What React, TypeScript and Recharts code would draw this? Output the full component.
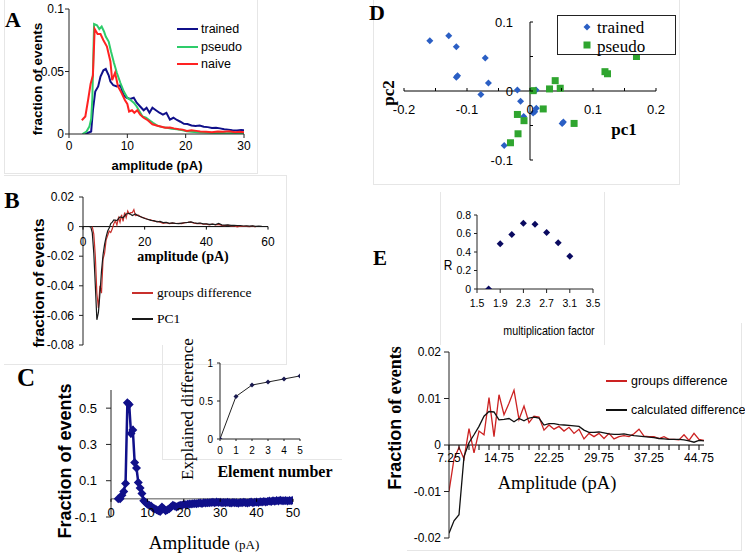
import React from 'react';
import { LineChart, Line, XAxis, YAxis, ScatterChart, Scatter, ReferenceLine } from 'recharts';

const SANS = "'Liberation Sans', Arial, Helvetica, sans-serif";
const SERIF = "'Liberation Serif', 'Times New Roman', Times, serif";

// ---------- Panel A ----------
const aTicksX = [0, 10, 20, 30];
const aTicksY = [0, 0.05, 0.1];
const aTrained: [number, number][] = [
  [2.8, 0], [3.3, 0.001], [3.8, 0.002], [4.1, 0.019], [4.5, 0.034], [5.0, 0.038], [5.4, 0.046], [5.9, 0.051],
  [6.3, 0.052], [6.8, 0.047], [7.1, 0.042], [7.6, 0.039], [8.2, 0.038], [8.8, 0.039], [9.4, 0.031], [9.9, 0.029],
  [10.5, 0.028], [11.1, 0.029], [11.6, 0.025], [12.2, 0.022], [12.8, 0.019], [13.3, 0.021], [13.8, 0.017],
  [14.3, 0.021], [14.9, 0.019], [15.5, 0.017], [16.1, 0.0155], [16.7, 0.017], [17.3, 0.0115], [17.9, 0.013],
  [18.5, 0.0112], [19.1, 0.0098], [19.7, 0.0082], [20.3, 0.008], [21.0, 0.0068], [21.7, 0.0065], [22.4, 0.0067],
  [23.1, 0.0058], [23.8, 0.0055], [24.5, 0.0048], [25.2, 0.005], [25.9, 0.0045], [26.6, 0.0038], [27.3, 0.0035],
  [28.0, 0.003], [28.8, 0.0028], [29.5, 0.0032], [30, 0.003],
];
const aPseudo: [number, number][] = [
  [2.3, 0], [3.0, 0.002], [3.5, 0.006], [3.8, 0.012], [4.0, 0.028], [4.3, 0.088], [4.8, 0.087], [5.2, 0.084],
  [5.6, 0.086], [6.0, 0.082], [6.3, 0.078], [6.8, 0.074], [7.2, 0.066], [7.7, 0.057], [8.2, 0.049], [8.8, 0.041],
  [9.4, 0.034], [10.0, 0.029], [10.6, 0.027], [11.1, 0.025], [11.6, 0.022], [12.1, 0.018], [12.6, 0.014],
  [13.2, 0.013], [13.8, 0.011], [14.4, 0.009], [15.2, 0.0065], [16.0, 0.0055], [16.8, 0.005], [17.6, 0.0042],
  [18.5, 0.0038], [19.3, 0.0032], [20.2, 0.0022], [21.0, 0.0018], [22.0, 0.0014], [23.0, 0.0012], [24.0, 0.001],
  [25.0, 0.0008], [26.0, 0.0009], [27.0, 0.0007], [28.0, 0.0008], [29.0, 0.0006], [30, 0.0007],
];
const aNaive: [number, number][] = [
  [2.2, 0.011], [2.8, 0.014], [3.3, 0.028], [3.7, 0.04], [4.1, 0.047], [4.4, 0.084], [4.9, 0.08], [5.4, 0.08],
  [5.9, 0.075], [6.5, 0.07], [7.1, 0.058], [7.4, 0.043], [7.9, 0.049], [8.4, 0.038], [9.0, 0.033], [9.6, 0.027],
  [10.0, 0.024], [10.3, 0.018], [10.8, 0.019], [11.2, 0.017], [11.7, 0.019], [12.2, 0.0155], [12.8, 0.013],
  [13.5, 0.011], [14.3, 0.0078], [15.0, 0.0068], [15.7, 0.006], [16.5, 0.005], [17.3, 0.0052], [18.0, 0.0045],
  [18.8, 0.0038], [19.5, 0.0035], [20.2, 0.0025], [21.0, 0.003], [21.8, 0.0025], [22.5, 0.002], [23.5, 0.0018],
  [24.5, 0.0015], [25.5, 0.002], [26.5, 0.0018], [27.5, 0.0022], [28.5, 0.0015], [29.3, 0.0018], [30, 0.0014],
];

// ---------- Panel B ----------
const bTicksX = [0, 20, 40, 60];
const bTicksY = [-0.08, -0.06, -0.04, -0.02, 0, 0.02];
const bGroups: [number, number][] = [
  [3, 0], [3.5, -0.005], [4, -0.02], [4.5, -0.045], [5, -0.055], [5.5, -0.04], [6, -0.045], [6.5, -0.022],
  [7, -0.018], [7.5, -0.009], [8, -0.006], [8.5, -0.003], [9, -0.004], [9.5, -0.0015], [10, 0.002], [10.5, 0.004],
  [11, 0.001], [11.5, 0.006], [12, 0.003], [12.5, 0.008], [13, 0.0035], [13.5, 0.0095], [14, 0.006], [14.5, 0.0105],
  [15, 0.0085], [15.5, 0.0095], [16, 0.0095], [16.5, 0.0115], [17, 0.0075], [18, 0.0078], [19, 0.0062], [20, 0.0058],
  [21, 0.0048], [22, 0.0045], [23, 0.0036], [24, 0.0035], [25, 0.003], [26, 0.0022], [27, 0.0026], [28, 0.002],
  [29, 0.0024], [30, 0.0021], [31, 0.0022], [32, 0.002], [33, 0.0027], [34, 0.0028], [35, 0.003], [36, 0.0024],
  [37, 0.002], [38, 0.0022], [39, 0.0016], [40, 0.0017], [41, 0.0012], [42, 0.0016], [43, 0.0012], [44, 0.0015],
  [45, 0.0008], [46, 0.0006], [47, 0.0009], [48, 0.0004], [49, 0.0006], [50, -0.0002], [51, 0.0003], [52, 0.0001],
  [53, 0.0002], [54, 0], [55, 0.0003], [56, -0.0003],
];
const bPC1: [number, number][] = [
  [2, 0], [2.5, 0], [3, -0.004], [3.5, -0.018], [4, -0.04], [4.5, -0.063], [5, -0.058], [5.5, -0.045], [6, -0.03],
  [6.5, -0.019], [7, -0.012], [7.5, -0.007], [8, -0.003], [8.5, -0.001], [9, 0.002], [9.5, 0.003], [10, 0.0045],
  [11, 0.004], [12, 0.0065], [13, 0.006], [14, 0.0085], [15, 0.009], [16, 0.0075], [17, 0.0085], [18, 0.0072],
  [19, 0.0065], [20, 0.0055], [21, 0.005], [22, 0.0042], [23, 0.004], [24, 0.0032], [25, 0.0035], [26, 0.0027],
  [27, 0.0028], [28, 0.0022], [29, 0.0025], [30, 0.0022], [31, 0.002], [32, 0.0024], [33, 0.0026], [34, 0.0028],
  [35, 0.0032], [36, 0.0026], [37, 0.0022], [38, 0.0024], [39, 0.0018], [40, 0.0018], [41, 0.0015], [42, 0.0017],
  [43, 0.0014], [44, 0.0022], [45, 0.0012], [46, 0.001], [47, 0.0012], [48, 0.0008], [49, 0.0009], [50, 0.0006],
  [51, 0.0007], [52, 0.0004], [53, 0.0005], [54, 0.0003], [55, 0.0005], [56, 0.0002], [57, 0.0003], [58, 0.0001],
];

// ---------- Panel C ----------
const cTicksX = [0, 10, 20, 30, 40, 50];
const cTicksY = [-0.1, 0.1, 0.3, 0.5];
const cAmp = [
  2, 2.5, 3, 3.5, 4, 4.5, 5, 5.5, 6, 6.5, 7, 7.5, 8, 8.5, 9, 9.5, 10, 10.5, 11, 11.5, 12, 12.5, 13, 13.5, 14, 14.5,
  15, 15.5, 16, 16.5, 17, 17.5, 18, 18.5, 19, 19.5, 20, 20.5, 21, 21.5, 22, 22.5, 23, 23.5, 24, 24.5, 25, 25.5, 26,
  26.5, 27, 27.5, 28, 28.5, 29, 29.5, 30, 30.5, 31, 31.5, 32, 32.5, 33, 33.5, 34, 34.5, 35, 35.5, 36, 36.5, 37, 37.5,
  38, 38.5, 39, 39.5, 40, 40.5, 41, 41.5, 42, 42.5, 43, 43.5, 44, 44.5, 45, 45.5, 46, 46.5, 47, 47.5, 48, 48.5, 49,
  49.5, 50,
];
const cFrac = [
  0, 0, 0.02, 0.04, 0.085, 0.53, 0.52, 0.36, 0.38, 0.2, 0.17, 0.09, 0.06, 0.03, -0.01, -0.02, -0.03, -0.035, -0.04,
  -0.05, -0.055, -0.06, -0.065, -0.07, -0.045, -0.055, -0.065, -0.06, -0.055, -0.045, -0.035, -0.04, -0.045, -0.04,
  -0.035, -0.035, -0.03, -0.032, -0.03, -0.028, -0.029, -0.027, -0.026, -0.027, -0.024, -0.023, -0.025, -0.022,
  -0.023, -0.021, -0.022, -0.02, -0.019, -0.021, -0.018, -0.02, -0.019, -0.021, -0.02, -0.022, -0.019, -0.021,
  -0.023, -0.02, -0.022, -0.021, -0.024, -0.02, -0.022, -0.019, -0.021, -0.023, -0.02, -0.018, -0.021, -0.019,
  -0.017, -0.02, -0.016, -0.018, -0.014, -0.017, -0.015, -0.012, -0.014, -0.011, -0.013, -0.009, -0.012, -0.008,
  -0.011, -0.01, -0.009, -0.012, -0.009, -0.01, -0.008,
];
const cInsetElement = [0, 1, 2, 3, 4, 5];
const cInsetExplained = [0, 0.56, 0.71, 0.75, 0.79, 0.83];
const cInsetTicksY = [0, 0.5, 1];

// ---------- Panel D ----------
const dTicksX = [-0.2, -0.15, -0.1, -0.05, 0, 0.05, 0.1, 0.15, 0.2];
const dLabelsX = [-0.2, -0.1, 0, 0.1, 0.2];
const dTicksY = [-0.1, -0.05, 0, 0.05, 0.1];
const dLabelsY = [-0.1, 0, 0.1];
const dTrained: [number, number][] = [
  [-0.159, 0.073], [-0.129, 0.08], [-0.117, 0.064], [-0.071, 0.048], [-0.117, 0.02], [-0.115, 0.022],
  [-0.066, 0.0115], [-0.078, -0.005], [-0.02, 0.0015], [-0.015, -0.015], [-0.01, -0.037], [0.0095, 0.0015],
  [0.01, -0.025], [0.0075, -0.03], [0.005, -0.032], [0.051, -0.047], [0.053, -0.045], [-0.041, -0.079],
];
const dPseudo: [number, number][] = [
  [0.169, 0.05], [0.119, 0.028], [0.123, 0.025], [0.04, 0.015], [0.031, 0.003], [0.048, 0.004], [0.005, 0.0005],
  [0.021, -0.026], [-0.02, -0.034], [-0.0095, -0.043], [0.07, -0.047], [-0.019, -0.062], [-0.031, -0.075],
];

// ---------- Panel E ----------
const eInsetFactor = [1.7, 1.9, 2.1, 2.3, 2.5, 2.7, 2.9, 3.1];
const eInsetR = [0, 0.49, 0.59, 0.71, 0.7, 0.61, 0.5, 0.355];
const eInsetTicksX = [1.5, 1.9, 2.3, 2.7, 3.1, 3.5];
const eInsetTicksY = [0, 0.2, 0.4, 0.6, 0.8];
const eAmp = [
  7.25, 8, 8.75, 9.5, 10.25, 11, 11.75, 12.5, 13.25, 14, 14.75, 15.5, 16.25, 17, 17.75, 18.5, 19.25, 20, 20.75, 21.5,
  22.25, 23, 23.75, 24.5, 25.25, 26, 26.75, 27.5, 28.25, 29, 29.75, 30.5, 31.25, 32, 32.75, 33.5, 34.25, 35, 35.75,
  36.5, 37.25, 38, 38.75, 39.5, 40.25, 41, 41.75, 42.5, 43.25, 44, 44.75, 45.5,
];
const eGroups = [
  -0.01, -0.003, -0.0005, -0.003, 0.0035, -0.0017, 0.003, 0.0022, 0.0102, 0.0018, 0.0108, 0.0065, 0.009, 0.0118,
  0.0055, 0.0084, 0.0048, 0.0062, 0.006, 0.0032, 0.0043, 0.0034, 0.004, 0.003, 0.0038, 0.0025, 0.0034, 0.0013,
  0.0025, 0.0018, 0.0025, 0.0014, 0.0025, 0.0013, 0.0018, 0.002, 0.0018, 0.0024, 0.0034, 0.0019, 0.0018, 0.0018,
  0.0014, 0.0018, 0.0012, 0.0012, 0.0011, 0.0022, 0.001, 0.0025, 0.0012, 0.001,
];
const eCalc = [
  -0.019, -0.0163, -0.015, -0.0025, 0.0005, 0.0022, 0.004, 0.0062, 0.0072, 0.0071, 0.0054, 0.0055, 0.0057, 0.005,
  0.0057, 0.0052, 0.0058, 0.006, 0.0058, 0.0043, 0.0046, 0.0046, 0.0044, 0.0043, 0.0042, 0.0041, 0.004, 0.0032,
  0.0027, 0.0027, 0.0028, 0.0026, 0.0024, 0.0023, 0.0023, 0.0024, 0.0022, 0.002, 0.0019, 0.0018, 0.0017, 0.0016,
  0.0014, 0.0013, 0.0012, 0.0012, 0.0012, 0.0011, 0.0009, 0.0006, 0.001, 0.0009,
];
const eTicksX = [
  7.25, 8.75, 10.25, 11.75, 13.25, 14.75, 16.25, 17.75, 19.25, 20.75, 22.25, 23.75, 25.25, 26.75, 28.25, 29.75,
  31.25, 32.75, 34.25, 35.75, 37.25, 38.75, 40.25, 41.75, 43.25, 44.75,
];
const eLabelsX = [7.25, 14.75, 22.25, 29.75, 37.25, 44.75];
const eTicksY = [-0.02, -0.01, 0, 0.01, 0.02];

// ---------- helpers ----------
const toXY = (arr: [number, number][]) => arr.map(([x, y]) => ({ x, y }));
const fmt = (v: number) => String(Math.round(v * 1e6) / 1e6);

function box(l: number, t: number, r: number, b: number, pl: number, pt: number, pr: number, pb: number) {
  return {
    left: l - pl, top: t - pt, width: r - l + pl + pr, height: b - t + pt + pb,
    margin: { top: pt, right: pr, left: 0, bottom: 0 }, yW: pl, xH: pb, pw: r - l, ph: b - t,
  };
}

type TickOpt = { shift: number; labels?: number[]; len?: number; dir?: number; gap: number; size: number; family?: string };

function xTick(o: TickOpt) {
  return (p: any) => {
    const v = Number(p.payload?.value);
    const y0 = p.y - o.shift;
    const show = !o.labels || o.labels.some((t) => Math.abs(t - v) < 1e-6);
    return (
      <g>
        {o.len ? <line x1={p.x} x2={p.x} y1={y0} y2={y0 + (o.dir ?? 1) * o.len} stroke="#000" strokeWidth={1} /> : null}
        {show ? (
          <text x={p.x} y={y0 + o.gap} textAnchor="middle" dominantBaseline="central" fontSize={o.size}
            fontFamily={o.family ?? SANS} fill="#000">{fmt(v)}</text>
        ) : null}
      </g>
    );
  };
}

function yTick(o: TickOpt) {
  return (p: any) => {
    const v = Number(p.payload?.value);
    const x0 = p.x + o.shift;
    const show = !o.labels || o.labels.some((t) => Math.abs(t - v) < 1e-6);
    return (
      <g>
        {o.len ? <line x1={x0} x2={x0 + (o.dir ?? 1) * o.len} y1={p.y} y2={p.y} stroke="#000" strokeWidth={1} /> : null}
        {show ? (
          <text x={x0 - o.gap} y={p.y} textAnchor="end" dominantBaseline="central" fontSize={o.size}
            fontFamily={o.family ?? SANS} fill="#000">{fmt(v)}</text>
        ) : null}
      </g>
    );
  };
}

const diamondDot = (color: string, r: number) => (p: any) => {
  const { cx, cy, index } = p;
  if (cx == null || cy == null || isNaN(cx) || isNaN(cy)) return <g key={`d${index}`} />;
  return <path key={`d${index}`} d={`M${cx},${cy - r}L${cx + r},${cy}L${cx},${cy + r}L${cx - r},${cy}Z`} fill={color} />;
};
const squareShape = (color: string, s: number) => (p: any) => {
  const { cx, cy } = p;
  return <rect x={cx - s / 2} y={cy - s / 2} width={s} height={s} fill={color} />;
};

function Txt(props: { x: number; y: number; children: React.ReactNode; size: number; family?: string; weight?: number; rotate?: number; align?: 'center' | 'left'; color?: string; sx?: number }) {
  const { x, y, children, size, family = SANS, weight = 400, rotate = 0, align = 'center', color = '#000', sx = 1 } = props;
  const tx = align === 'center' ? '-50%' : '0';
  return (
    <div style={{
      position: 'absolute', left: x, top: y, transform: `translate(${tx},-50%) rotate(${rotate}deg) scaleX(${sx})`,
      transformOrigin: align === 'center' ? '50% 50%' : '0 50%',
      fontSize: size, fontFamily: family, fontWeight: weight, whiteSpace: 'nowrap', lineHeight: 1, color,
    }}>{children}</div>
  );
}

function Swatch({ x1, x2, y, color, w = 2 }: { x1: number; x2: number; y: number; color: string; w?: number }) {
  return <div style={{ position: 'absolute', left: x1, top: y - w / 2, width: x2 - x1, height: w, background: color }} />;
}

function Frame({ l, t, w, h, sides }: { l: number; t: number; w: number; h: number; sides: string }) {
  const c = '1px solid #e6e6e6';
  return (
    <div style={{
      position: 'absolute', left: l, top: t, width: w, height: h, boxSizing: 'border-box',
      borderTop: sides.includes('t') ? c : 'none', borderRight: sides.includes('r') ? c : 'none',
      borderBottom: sides.includes('b') ? c : 'none', borderLeft: sides.includes('l') ? c : 'none',
    }} />
  );
}

const axisStroke = { stroke: '#222' };

const NAVY = '#10108a';
const A_GREEN = '#2ecc6a';
const A_RED = '#ff2222';
const B_RED = '#c8302c';
const D_BLUE = '#2b5fc4';
const D_GREEN = '#2fa52f';
const E_RED = '#cc2222';

export default function App() {
  const A = box(69, 9, 244, 134, 69, 9, 14, 26);
  const B = box(83, 197, 268, 345, 83, 15, 14, 8);
  const bShift = (B.ph * (0 - -0.08)) / (0.02 - -0.08);
  const C = box(111, 390, 293, 517, 111, 10, 8, 8);
  const cShift = (C.ph * (0 - -0.1)) / (0.6 - -0.1);
  const CI = box(220, 363, 300, 439, 50, 8, 8, 20);
  const D = box(404, 22, 656, 160, 30, 10, 10, 8);
  const dShiftX = D.ph * 0.5;
  const dShiftY = D.pw * 0.5;
  const EI = box(477, 215, 593, 289, 40, 8, 12, 22);
  const E = box(449, 352, 704, 538, 60, 8, 30, 8);
  const eShift = E.ph * 0.5;

  const cData = cAmp.map((x, i) => ({ x, y: cFrac[i] }));
  const ciData = cInsetElement.map((x, i) => ({ x, y: cInsetExplained[i] }));
  const eiData = eInsetFactor.map((x, i) => ({ x, y: eInsetR[i] }));
  const eData = eAmp.map((x, i) => ({ x, g: eGroups[i], c: eCalc[i] }));

  return (
    <div style={{ position: 'absolute', left: 0, top: 0, width: 745, height: 555, background: '#fff', overflow: 'hidden', fontFamily: SANS }}>
      {/* faint frames */}
      <Frame l={4} t={-1} w={254} h={175} sides="lrb" />
      <Frame l={4} t={175} w={283} h={190} sides="trb" />
      <Frame l={162} t={345} w={180} h={115} sides="lb" />
      <Frame l={373} t={-1} w={307} h={186} sides="lrb" />
      <Frame l={440} t={192} w={165} h={153} sides="lr" />
      <Frame l={407} t={323} w={335} h={228} sides="rb" />

      {/* ---------- A ---------- */}
      <div style={{ position: 'absolute', left: A.left, top: A.top }}>
        <LineChart width={A.width} height={A.height} margin={A.margin}>
          <XAxis type="number" dataKey="x" domain={[0, 30]} ticks={aTicksX} interval={0} height={A.xH} tickSize={4} tickMargin={3}
            axisLine={axisStroke} tickLine={axisStroke} tick={{ fill: '#000', fontSize: 12, fontFamily: SANS }} allowDataOverflow />
          <YAxis type="number" domain={[0, 0.1]} ticks={aTicksY} interval={0} width={A.yW} tickSize={4} tickMargin={1}
            axisLine={axisStroke} tickLine={axisStroke} tick={{ fill: '#000', fontSize: 12, fontFamily: SANS }} allowDataOverflow />
          <Line data={toXY(aTrained)} dataKey="y" name="trained" stroke={NAVY} strokeWidth={2} dot={false} activeDot={false} isAnimationActive={false} />
          <Line data={toXY(aPseudo)} dataKey="y" name="pseudo" stroke={A_GREEN} strokeWidth={2} dot={false} activeDot={false} isAnimationActive={false} />
          <Line data={toXY(aNaive)} dataKey="y" name="naive" stroke={A_RED} strokeWidth={2} dot={false} activeDot={false} isAnimationActive={false} />
        </LineChart>
      </div>
      <Txt x={13} y={20} size={22} family={SERIF} weight={700}>A</Txt>
      <Txt x={38} y={79} size={13.5} weight={700} rotate={-90}>fraction of events</Txt>
      <Txt x={157} y={165} size={13} weight={700}>amplitude (pA)</Txt>
      <Swatch x1={177} x2={198} y={29} color={NAVY} />
      <Swatch x1={177} x2={198} y={47} color={A_GREEN} />
      <Swatch x1={177} x2={198} y={64} color={A_RED} />
      <Txt x={201} y={29} size={12.5} align="left">trained</Txt>
      <Txt x={201} y={47} size={12.5} align="left">pseudo</Txt>
      <Txt x={201} y={64} size={12.5} align="left">naive</Txt>

      {/* ---------- B ---------- */}
      <div style={{ position: 'absolute', left: B.left, top: B.top }}>
        <LineChart width={B.width} height={B.height} margin={B.margin}>
          <XAxis type="number" dataKey="x" domain={[0, 60]} ticks={bTicksX} interval={0} height={B.xH} tickSize={0} tickMargin={0}
            axisLine={false} tickLine={false} tick={xTick({ shift: bShift, len: 3, dir: 1, gap: 15, size: 12 })} allowDataOverflow />
          <YAxis type="number" domain={[-0.08, 0.02]} ticks={bTicksY} interval={0} width={B.yW} tickSize={4} tickMargin={5}
            axisLine={axisStroke} tickLine={axisStroke} tick={{ fill: '#000', fontSize: 12, fontFamily: SANS }} allowDataOverflow />
          <ReferenceLine y={0} stroke="#000" strokeWidth={1} />
          <Line data={toXY(bGroups)} dataKey="y" name="groups difference" stroke={B_RED} strokeWidth={1.2} dot={false} activeDot={false} isAnimationActive={false} />
          <Line data={toXY(bPC1)} dataKey="y" name="PC1" stroke="#1a1a1a" strokeWidth={1.2} dot={false} activeDot={false} isAnimationActive={false} />
        </LineChart>
      </div>
      <Txt x={12} y={200} size={23} family={SERIF} weight={700}>B</Txt>
      <Txt x={39} y={283} size={15.5} weight={700} rotate={-90}>fraction of events</Txt>
      <Txt x={183} y={257} size={14} family={SERIF} weight={700}>amplitude (pA)</Txt>
      <Swatch x1={132} x2={153} y={293} color={B_RED} w={1.5} />
      <Swatch x1={132} x2={153} y={319} color="#1a1a1a" w={1.5} />
      <Txt x={157} y={293} size={13.5} family={SERIF} align="left">groups difference</Txt>
      <Txt x={157} y={319} size={13.5} family={SERIF} align="left">PC1</Txt>

      {/* ---------- C ---------- */}
      <div style={{ position: 'absolute', left: C.left, top: C.top }}>
        <LineChart width={C.width} height={C.height} margin={C.margin} data={cData}>
          <XAxis type="number" dataKey="x" domain={[0, 50]} ticks={cTicksX} interval={0} height={C.xH} tickSize={0} tickMargin={0}
            axisLine={false} tickLine={false} tick={xTick({ shift: cShift, len: 3, dir: 1, gap: 14, size: 13 })} allowDataOverflow />
          <YAxis type="number" domain={[-0.1, 0.6]} ticks={cTicksY} interval={0} width={C.yW} tickSize={5} tickMargin={9}
            axisLine={axisStroke} tickLine={axisStroke} tick={{ fill: '#000', fontSize: 13, fontFamily: SANS }} allowDataOverflow />
          <ReferenceLine y={0} stroke="#555" strokeWidth={1} />
          <Line dataKey="y" stroke={NAVY} strokeWidth={2.5} dot={diamondDot(NAVY, 4.5)} activeDot={false} isAnimationActive={false} />
        </LineChart>
      </div>
      <div style={{ position: 'absolute', left: CI.left, top: CI.top }}>
        <LineChart width={CI.width} height={CI.height} margin={CI.margin} data={ciData}>
          <XAxis type="number" dataKey="x" domain={[0, 5]} ticks={cInsetElement} interval={0} height={CI.xH} tickSize={2} tickMargin={6}
            axisLine={axisStroke} tickLine={axisStroke} tick={{ fill: '#000', fontSize: 10, fontFamily: SANS }} allowDataOverflow />
          <YAxis type="number" domain={[0, 1]} ticks={cInsetTicksY} interval={0} width={CI.yW} tickSize={3} tickMargin={4}
            axisLine={axisStroke} tickLine={axisStroke} tick={{ fill: '#000', fontSize: 10, fontFamily: SANS }} allowDataOverflow />
          <Line dataKey="y" stroke="#222" strokeWidth={1} dot={diamondDot('#1a1a50', 2.5)} activeDot={false} isAnimationActive={false} />
        </LineChart>
      </div>
      <Txt x={26} y={377} size={25} family={SERIF} weight={700}>C</Txt>
      <Txt x={65} y={461} size={18} weight={700} rotate={-90}>Fraction of events</Txt>
      <Txt x={204} y={542} size={19} family={SERIF}>Amplitude <span style={{ fontSize: 13 }}>(pA)</span></Txt>
      <Txt x={187} y={409} size={17} family={SERIF} rotate={-90}>Explained difference</Txt>
      <Txt x={275} y={472} size={16} family={SERIF} weight={700}>Element number</Txt>

      {/* ---------- D ---------- */}
      <div style={{ position: 'absolute', left: D.left, top: D.top }}>
        <ScatterChart width={D.width} height={D.height} margin={D.margin}>
          <XAxis type="number" dataKey="x" domain={[-0.2, 0.2]} ticks={dTicksX} interval={0} height={D.xH} tickSize={0} tickMargin={0}
            axisLine={false} tickLine={false} tick={xTick({ shift: dShiftX, labels: dLabelsX, len: 3, dir: -1, gap: 18, size: 13 })} allowDataOverflow />
          <YAxis type="number" dataKey="y" domain={[-0.1, 0.1]} ticks={dTicksY} interval={0} width={D.yW} tickSize={0} tickMargin={0}
            axisLine={false} tickLine={false} tick={yTick({ shift: dShiftY, labels: dLabelsY, len: 3, dir: 1, gap: 17, size: 13 })} allowDataOverflow />
          <ReferenceLine y={0} stroke="#000" strokeWidth={1} />
          <ReferenceLine x={0} stroke="#000" strokeWidth={1} />
          <Scatter data={toXY(dTrained)} name="trained" fill={D_BLUE} shape={diamondDot(D_BLUE, 3.5)} isAnimationActive={false} />
          <Scatter data={toXY(dPseudo)} name="pseudo" fill={D_GREEN} shape={squareShape(D_GREEN, 7)} isAnimationActive={false} />
        </ScatterChart>
      </div>
      <Txt x={377} y={13} size={22} family={SERIF} weight={700}>D</Txt>
      <Txt x={388} y={93} size={17} family={SERIF} weight={700} rotate={-90}>pc2</Txt>
      <Txt x={624} y={129} size={17} family={SERIF} weight={700}>pc1</Txt>
      <div style={{ position: 'absolute', left: 557, top: 15, width: 119, height: 40, border: '1px solid #222', boxSizing: 'border-box', background: '#fff' }} />
      <svg style={{ position: 'absolute', left: 580, top: 20 }} width={14} height={34}>
        <path d="M7,3.5L10.5,7L7,10.5L3.5,7Z" fill={D_BLUE} />
        <rect x={3.5} y={21.5} width={7} height={7} fill={D_GREEN} />
      </svg>
      <Txt x={597} y={27} size={17} family={SERIF} align="left">trained</Txt>
      <Txt x={597} y={46} size={17} family={SERIF} align="left">pseudo</Txt>

      {/* ---------- E ---------- */}
      <div style={{ position: 'absolute', left: EI.left, top: EI.top }}>
        <ScatterChart width={EI.width} height={EI.height} margin={EI.margin}>
          <XAxis type="number" dataKey="x" domain={[1.5, 3.5]} ticks={eInsetTicksX} interval={0} height={EI.xH} tickSize={4} tickMargin={7}
            axisLine={axisStroke} tickLine={axisStroke} tick={{ fill: '#000', fontSize: 10.5, fontFamily: SANS }} allowDataOverflow />
          <YAxis type="number" dataKey="y" domain={[0, 0.8]} ticks={eInsetTicksY} interval={0} width={EI.yW} tickSize={3} tickMargin={3}
            axisLine={axisStroke} tickLine={axisStroke} tick={{ fill: '#000', fontSize: 10.5, fontFamily: SANS }} allowDataOverflow />
          <Scatter data={eiData} fill="#0a0a60" shape={diamondDot('#0a0a60', 3.5)} isAnimationActive={false} />
        </ScatterChart>
      </div>
      <Txt x={380} y={258} size={21} family={SERIF} weight={700}>E</Txt>
      <Txt x={448} y={265} size={14} sx={0.85}>R</Txt>
      <Txt x={549} y={330} size={13} sx={0.82}>multiplication factor</Txt>

      <div style={{ position: 'absolute', left: E.left, top: E.top }}>
        <LineChart width={E.width} height={E.height} margin={E.margin} data={eData}>
          <XAxis type="number" dataKey="x" domain={[7.25, 45.5]} ticks={eTicksX} interval={0} height={E.xH} tickSize={0} tickMargin={0}
            axisLine={false} tickLine={false} tick={xTick({ shift: eShift, labels: eLabelsX, len: 5, dir: 1, gap: 13, size: 12 })} allowDataOverflow />
          <YAxis type="number" domain={[-0.02, 0.02]} ticks={eTicksY} interval={0} width={E.yW} tickSize={5} tickMargin={3}
            axisLine={axisStroke} tickLine={axisStroke} tick={{ fill: '#000', fontSize: 12, fontFamily: SANS }} allowDataOverflow />
          <ReferenceLine y={0} stroke="#000" strokeWidth={1} />
          <Line dataKey="g" name="groups difference" stroke={E_RED} strokeWidth={1.3} dot={false} activeDot={false} isAnimationActive={false} />
          <Line dataKey="c" name="calculated difference" stroke="#111" strokeWidth={1.3} dot={false} activeDot={false} isAnimationActive={false} />
        </LineChart>
      </div>
      <Txt x={395} y={418} size={18} weight={700} rotate={-90}>
        <span style={{ fontFamily: SANS }}>Fraction </span><span style={{ fontFamily: SERIF }}>of events</span>
      </Txt>
      <Txt x={557} y={483} size={18.5} family={SERIF}>Amplitude (pA)</Txt>
      <Swatch x1={606} x2={627} y={381} color={E_RED} w={1.5} />
      <Swatch x1={606} x2={627} y={410} color="#111" w={1.5} />
      <Txt x={631} y={381} size={12.5} align="left">groups difference</Txt>
      <Txt x={631} y={410} size={12.5} align="left">calculated difference</Txt>
    </div>
  );
}
